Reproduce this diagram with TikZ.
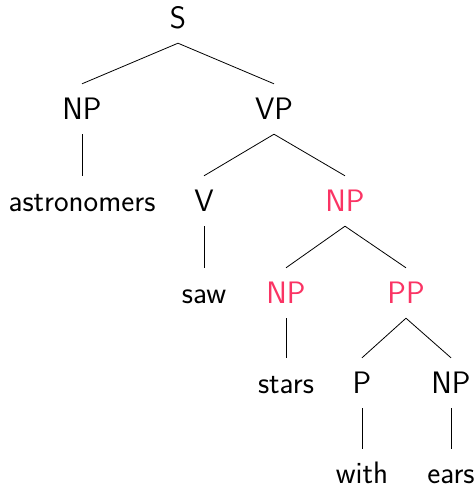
\documentclass[tikz,border=0pt]{standalone}
\usepackage{fontspec}
\definecolor{hl}{RGB}{250,52,100}
\begin{document}
\begin{tikzpicture}[x=1pt,y=-1pt,
  lab/.style={anchor=base,font=\sffamily\fontsize{31}{36}\selectfont,
    text height=21pt,text depth=1pt,inner xsep=0pt,inner ysep=14pt},
  red/.style={text=hl},
  edge/.style={line width=0.8pt},
  low/.style={inner ysep=0pt,text height=34pt,text depth=0pt}]
\useasboundingbox (0,0) rectangle (475,488);
\node[lab] (S) at (178,28) {S};
\node[lab] (NP1) at (82,119) {NP};
\node[lab] (VP) at (274,119) {VP};
\node[lab] (astr) at (82,211) {astronomers};
\node[lab] (V) at (204,211) {V};
\node[lab,red] (NP2) at (345,211) {NP};
\node[lab] (saw) at (204,303) {saw};
\node[lab,red] (NP3) at (286,303) {NP};
\node[lab,red] (PP) at (406,303) {PP};
\node[lab] (stars) at (286,393) {stars};
\node[lab] (P) at (362,393) {P};
\node[lab] (NP4) at (451,393) {NP};
\node[lab,low] (with) at (362,483) {with};
\node[lab,low] (ears) at (451,483) {ears};
\draw[edge] (S.south) -- (NP1.north);
\draw[edge] (S.south) -- (VP.north);
\draw[edge] (NP1.south) -- (astr.north);
\draw[edge] (VP.south) -- (V.north);
\draw[edge] (VP.south) -- (NP2.north);
\draw[edge] (V.south) -- (saw.north);
\draw[edge] (NP2.south) -- (NP3.north);
\draw[edge] (NP2.south) -- (PP.north);
\draw[edge] (NP3.south) -- (stars.north);
\draw[edge] (PP.south) -- (P.north);
\draw[edge] (PP.south) -- (NP4.north);
\draw[edge] (P.south) -- (with.north);
\draw[edge] (NP4.south) -- (ears.north);
\end{tikzpicture}
\end{document}
